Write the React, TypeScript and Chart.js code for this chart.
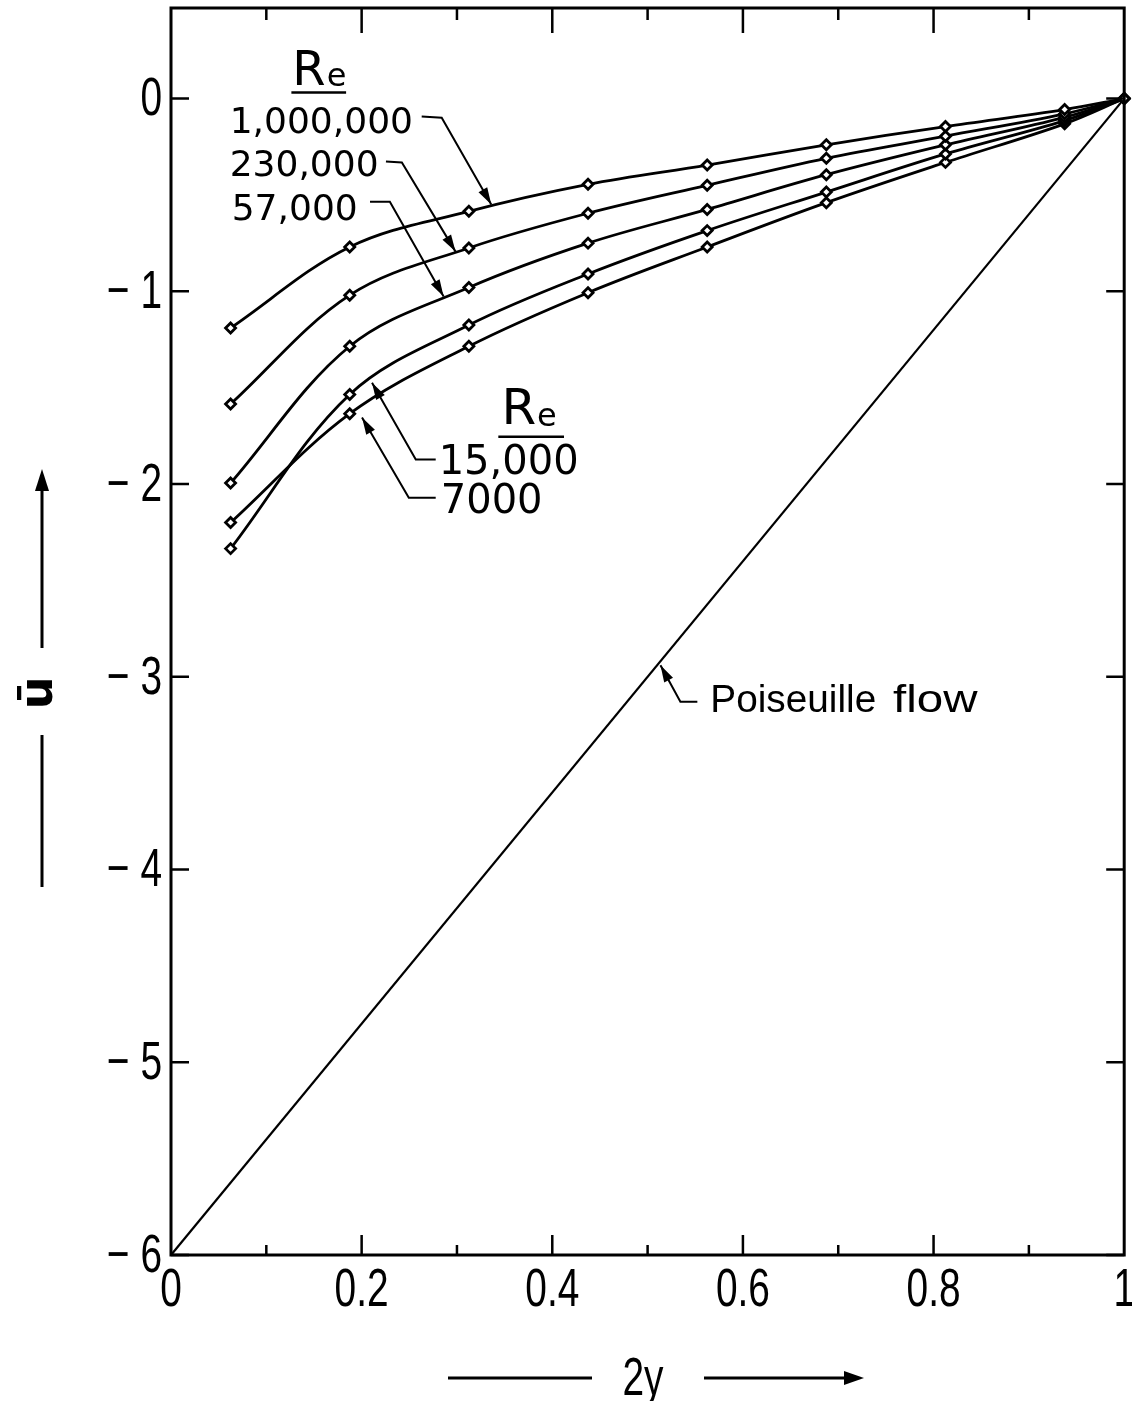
import React, { useEffect, useRef } from "react";
import { Chart, registerables } from "chart.js";

Chart.register(...registerables);

// Stations across the channel (2y) where the velocity defect was evaluated
const X_STATIONS = [0.0625, 0.1875, 0.3125, 0.4375, 0.5625, 0.6875, 0.8125, 0.9375, 1.0];

// Mean velocity profiles, one per Reynolds number
const U_RE_1000000 = [-1.19, -0.77, -0.585, -0.445, -0.345, -0.24, -0.145, -0.057, 0];
const U_RE_230000 = [-1.585, -1.02, -0.775, -0.595, -0.45, -0.31, -0.195, -0.079, 0];
const U_RE_57000 = [-1.995, -1.285, -0.98, -0.75, -0.575, -0.395, -0.24, -0.097, 0];
const U_RE_15000 = [-2.335, -1.535, -1.175, -0.91, -0.685, -0.485, -0.287, -0.114, 0];
const U_RE_7000 = [-2.2, -1.635, -1.285, -1.007, -0.77, -0.54, -0.331, -0.131, 0];

// Laminar (Poiseuille) reference line
const POISEUILLE_X = [0, 1];
const POISEUILLE_U = [-6, 0];

// Axis ticks
const X_TICKS = [0, 0.2, 0.4, 0.6, 0.8, 1];
const X_TICK_LABELS = ["0", "0.2", "0.4", "0.6", "0.8", "1"];
const Y_TICKS = [0, -1, -2, -3, -4, -5, -6];
const Y_TICK_LABELS = ["0", "\u2212 1", "\u2212 2", "\u2212 3", "\u2212 4", "\u2212 5", "\u2212 6"];

const RE_NAMES = ["1,000,000", "230,000", "57,000", "15,000", "7000"];

// Callout placement (data coordinates): label anchor and leader path ending at the arrow tip
const CALLOUTS = [
  { text: RE_NAMES[0], x: 0.0616, y: -0.176, size: 36, path: [[0.263, -0.093], [0.284, -0.099], [0.336, -0.55]] },
  { text: RE_NAMES[1], x: 0.0616, y: -0.4, size: 36, path: [[0.2255, -0.327], [0.2422, -0.332], [0.2985, -0.794]] },
  { text: RE_NAMES[2], x: 0.0637, y: -0.628, size: 36, path: [[0.2088, -0.535], [0.2296, -0.535], [0.286, -1.027]] },
  { text: RE_NAMES[3], x: 0.2808, y: -1.946, size: 40, path: [[0.2777, -1.873], [0.2568, -1.873], [0.2109, -1.474]] },
  { text: RE_NAMES[4], x: 0.2830, y: -2.148, size: 40, path: [[0.2777, -2.071], [0.2495, -2.071], [0.2004, -1.655]] },
];

const RE_HEADERS = [
  { x: 0.1273, y: 0.0727, rSize: 48, eY: 0.067, ulY: 0.031, ulX0: 0.1263, ulX1: 0.1837 },
  { x: 0.3466, y: -1.687, rSize: 50, eY: -1.697, ulY: -1.754, ulX0: 0.3434, ulX1: 0.4123 },
];

const POISEUILLE_NOTE = {
  word1: "Poiseuille",
  word2: "flow",
  x1: 0.5658,
  x2: 0.7575,
  y: -3.181,
  path: [[0.5522, -3.129], [0.5344, -3.129], [0.5135, -2.94]],
};

const TICK_FONT = "54px 'Liberation Sans', Arial, sans-serif";
const NOTE_FONT = "'DejaVu Sans', 'Liberation Sans', sans-serif";
const INK = "#000";

function arrowHead(ctx: CanvasRenderingContext2D, fx: number, fy: number, tx: number, ty: number, len = 17, half = 5) {
  const a = Math.atan2(ty - fy, tx - fx);
  const bx = tx - len * Math.cos(a);
  const by = ty - len * Math.sin(a);
  const px = -Math.sin(a) * half;
  const py = Math.cos(a) * half;
  ctx.beginPath();
  ctx.moveTo(tx, ty);
  ctx.lineTo(bx + px, by + py);
  ctx.lineTo(bx - px, by - py);
  ctx.closePath();
  ctx.fill();
}

// tall, condensed lettering used for the axis numbers
function narrowText(ctx: CanvasRenderingContext2D, text: string, x: number, y: number, align: CanvasTextAlign) {
  ctx.save();
  ctx.translate(x, y);
  ctx.scale(0.72, 1);
  ctx.font = TICK_FONT;
  ctx.textAlign = align;
  ctx.textBaseline = "middle";
  ctx.fillText(text, 0, 0);
  ctx.restore();
}

// text stretched horizontally for the widely spaced lettering of the note
function wideText(ctx: CanvasRenderingContext2D, text: string, x: number, y: number, sx: number) {
  ctx.save();
  ctx.translate(x, y);
  ctx.scale(sx, 1);
  ctx.textAlign = "left";
  ctx.fillText(text, 0, 0);
  ctx.restore();
}

const decorations = {
  id: "decorations",
  afterDraw(chart: any) {
    const ctx: CanvasRenderingContext2D = chart.ctx;
    const { left, right, top, bottom } = chart.chartArea;
    const xs = chart.scales.x;
    const ys = chart.scales.y;
    const X = (v: number) => xs.getPixelForValue(v);
    const Y = (v: number) => ys.getPixelForValue(v);

    ctx.save();
    ctx.strokeStyle = INK;
    ctx.fillStyle = INK;
    ctx.lineCap = "butt";

    // frame
    ctx.lineWidth = 3;
    ctx.strokeRect(left, top, right - left, bottom - top);

    // inward ticks, x every 0.1 (longer at 0.2)
    ctx.lineWidth = 2.5;
    for (let i = 1; i < 10; i++) {
      const px = X(i / 10);
      const len = i % 2 === 0 ? 20 : 10;
      ctx.beginPath();
      ctx.moveTo(px, bottom);
      ctx.lineTo(px, bottom - len);
      ctx.moveTo(px, top);
      ctx.lineTo(px, top + (i % 2 === 0 ? 25 : 12));
      ctx.stroke();
    }
    // y ticks on both sides
    for (const v of Y_TICKS) {
      const py = Y(v);
      ctx.beginPath();
      ctx.moveTo(left, py);
      ctx.lineTo(left + 18, py);
      ctx.moveTo(right, py);
      ctx.lineTo(right - 18, py);
      ctx.stroke();
    }

    // tick labels
    Y_TICKS.forEach((v, i) => narrowText(ctx, Y_TICK_LABELS[i], left - 9, Y(v) + 2, "right"));
    X_TICKS.forEach((v, i) => narrowText(ctx, X_TICK_LABELS[i], X(v), bottom + 36, "center"));

    // x axis title with arrow
    ctx.lineWidth = 3;
    const ty = bottom + 123;
    ctx.beginPath();
    ctx.moveTo(448, ty);
    ctx.lineTo(592, ty);
    ctx.moveTo(704, ty);
    ctx.lineTo(850, ty);
    ctx.stroke();
    arrowHead(ctx, 704, ty, 864, ty, 20, 7);
    narrowText(ctx, "2y", 643, ty + 2, "center");

    // y axis title with arrow
    ctx.beginPath();
    ctx.moveTo(42, 648);
    ctx.lineTo(42, 490);
    ctx.moveTo(42, 735);
    ctx.lineTo(42, 887);
    ctx.stroke();
    arrowHead(ctx, 42, 648, 42, 469, 22, 7);
    ctx.save();
    ctx.translate(40, 693);
    ctx.rotate(-Math.PI / 2);
    ctx.font = "bold 46px " + NOTE_FONT;
    ctx.textAlign = "center";
    ctx.textBaseline = "middle";
    ctx.fillText("\u016B", 0, 0);
    ctx.restore();

    // Re headers: R with subscript e, underlined
    ctx.textAlign = "left";
    ctx.textBaseline = "alphabetic";
    for (const h of RE_HEADERS) {
      ctx.font = `${h.rSize}px ${NOTE_FONT}`;
      const rx = X(h.x);
      ctx.fillText("R", rx, Y(h.y));
      const rw = ctx.measureText("R").width;
      ctx.font = `32px ${NOTE_FONT}`;
      ctx.fillText("e", rx + rw + 1, Y(h.eY));
      ctx.lineWidth = 2.5;
      ctx.beginPath();
      ctx.moveTo(X(h.ulX0), Y(h.ulY));
      ctx.lineTo(X(h.ulX1), Y(h.ulY));
      ctx.stroke();
    }

    // callouts
    ctx.lineWidth = 2;
    for (const c of CALLOUTS) {
      ctx.font = `${c.size}px ${NOTE_FONT}`;
      ctx.fillText(c.text, X(c.x), Y(c.y));
      const pts = c.path.map(([a, b]) => [X(a), Y(b)]);
      ctx.beginPath();
      ctx.moveTo(pts[0][0], pts[0][1]);
      for (let i = 1; i < pts.length; i++) ctx.lineTo(pts[i][0], pts[i][1]);
      ctx.stroke();
      const n = pts.length;
      arrowHead(ctx, pts[n - 2][0], pts[n - 2][1], pts[n - 1][0], pts[n - 1][1]);
    }

    // Poiseuille note
    const p = POISEUILLE_NOTE;
    ctx.font = "38px 'Liberation Sans', Arial, sans-serif";
    wideText(ctx, p.word1, X(p.x1), Y(p.y), 1.02);
    wideText(ctx, p.word2, X(p.x2), Y(p.y), 1.25);
    const pp = p.path.map(([a, b]) => [X(a), Y(b)]);
    ctx.beginPath();
    ctx.moveTo(pp[0][0], pp[0][1]);
    for (let i = 1; i < pp.length; i++) ctx.lineTo(pp[i][0], pp[i][1]);
    ctx.stroke();
    arrowHead(ctx, pp[1][0], pp[1][1], pp[2][0], pp[2][1]);

    ctx.restore();
  },
};

function profile(values: number[]) {
  return X_STATIONS.map((x, i) => ({ x, y: values[i] }));
}

export default function App() {
  const ref = useRef<HTMLCanvasElement | null>(null);

  useEffect(() => {
    if (!ref.current) return;
    const series = [U_RE_1000000, U_RE_230000, U_RE_57000, U_RE_15000, U_RE_7000];
    const profileSets = series.map((vals, i) => ({
      label: "Re = " + RE_NAMES[i],
      data: profile(vals),
      showLine: true,
      borderColor: INK,
      borderWidth: 2.8,
      tension: 0.35,
      pointStyle: "rectRot" as const,
      pointRadius: 5,
      pointBackgroundColor: "#fff",
      pointBorderColor: INK,
      pointBorderWidth: 2.8,
      clip: false as any,
    }));
    const chart = new Chart(ref.current, {
      type: "scatter",
      data: {
        datasets: [
          ...profileSets,
          {
            label: "Poiseuille flow",
            data: POISEUILLE_X.map((x, i) => ({ x, y: POISEUILLE_U[i] })),
            showLine: true,
            borderColor: INK,
            borderWidth: 2.2,
            pointRadius: 0,
            clip: false as any,
          },
        ],
      },
      options: {
        responsive: false,
        animation: false,
        layout: { padding: { left: 171, right: 2, top: 8, bottom: 146 } },
        plugins: { legend: { display: false }, tooltip: { enabled: false } },
        scales: {
          x: { type: "linear", min: 0, max: 1, display: false },
          y: { type: "linear", min: -6, max: 0.47, display: false },
        },
      },
      plugins: [decorations],
    });
    return () => chart.destroy();
  }, []);

  return (
    <div style={{ position: "absolute", left: 0, top: 0, width: 1132, height: 1401, background: "#fff" }}>
      <canvas ref={ref} width={1132} height={1401} style={{ display: "block" }} />
    </div>
  );
}
